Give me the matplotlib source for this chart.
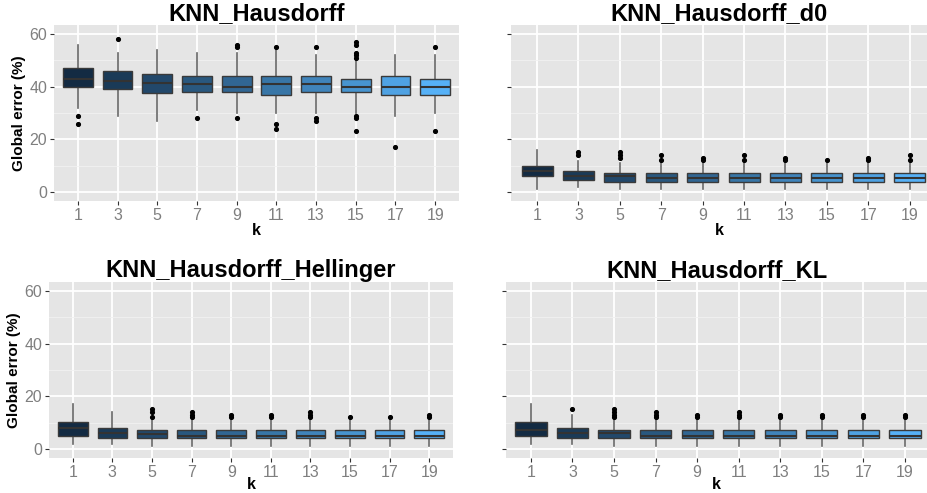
import matplotlib
matplotlib.use("Agg")
import matplotlib.pyplot as plt
from matplotlib.colors import LinearSegmentedColormap
from matplotlib.ticker import MultipleLocator

plt.rcParams['font.family'] = ['Liberation Sans', 'DejaVu Sans']

k_values = [1, 3, 5, 7, 9, 11, 13, 15, 17, 19]
titles = ["KNN_Hausdorff", "KNN_Hausdorff_d0",
          "KNN_Hausdorff_Hellinger", "KNN_Hausdorff_KL"]

# KNN_Hausdorff
h_q1 = [40, 39, 37.8, 38, 38, 37, 38, 38, 37, 37]
h_med = [43, 42.2, 41.5, 41, 40, 41, 41, 40, 40, 40]
h_q3 = [47, 46, 45, 44, 44, 44, 44, 43, 44, 43]
h_lo = [32, 29, 27, 31, 30, 30, 30, 30, 29, 30]
h_hi = [56, 53, 54, 53, 53, 54, 52, 50, 52, 52]
h_out = [[29, 26], [58], [], [28], [56, 55, 28], [55, 26, 24], [55, 28, 27],
         [57, 56, 53, 52, 51, 29, 28, 23], [17], [55, 23]]

# KNN_Hausdorff_d0
d0_q1 = [6, 4.5, 3.9, 3.9, 3.9, 3.9, 3.9, 3.9, 3.9, 3.9]
d0_med = [7.9, 6, 6, 5.1, 5.1, 5.1, 5.1, 5.1, 5.1, 5.1]
d0_q3 = [9.9, 8, 7, 7, 7, 7, 7, 7, 7, 7]
d0_lo = [1, 2, 1, 1, 1, 1, 1, 1, 1, 1]
d0_hi = [15.8, 11.8, 10.8, 10.8, 10.8, 10.8, 10.8, 10.8, 10.8, 10.8]
d0_out = [[], [15, 14], [15, 14, 13], [14, 12], [13, 12], [14, 12],
          [13, 12], [12], [13, 12], [14, 12]]

# KNN_Hausdorff_Hellinger
he_q1 = [5, 4, 4, 4, 4, 4, 4, 4, 4, 4]
he_med = [8, 6, 5.6, 5, 5, 5, 5, 5, 5, 5]
he_q3 = [10.1, 8, 7, 7, 7, 7, 7, 7, 7, 7]
he_lo = [2, 2, 1, 1, 1, 1, 1, 1, 1, 1]
he_hi = [17, 14, 11, 11, 11, 11, 11, 11, 11, 11]
he_out = [[], [], [15, 14, 12], [14, 13, 12], [13, 12], [13, 12],
          [14, 13, 12], [12], [12], [13, 12]]

# KNN_Hausdorff_KL
kl_q1 = [5, 4, 4, 4, 4, 4, 4, 4, 4, 4]
kl_med = [7.1, 6.1, 6.1, 5, 5, 5, 5, 5, 5, 5]
kl_q3 = [10.1, 8, 7, 7, 7, 7, 7, 7, 7, 7]
kl_lo = [2, 2, 1, 1, 1, 1, 1, 1, 1, 1]
kl_hi = [17, 13, 11, 11, 11, 11, 11, 11, 11, 11]
kl_out = [[], [15], [15, 14, 13, 12], [14, 13, 12], [13, 12], [14, 13, 12],
          [13, 12], [13, 12], [13, 12], [13, 12]]

panels = [
    (h_q1, h_med, h_q3, h_lo, h_hi, h_out),
    (d0_q1, d0_med, d0_q3, d0_lo, d0_hi, d0_out),
    (he_q1, he_med, he_q3, he_lo, he_hi, he_out),
    (kl_q1, kl_med, kl_q3, kl_lo, kl_hi, kl_out),
]

W, H = 927, 493
# axes rectangles in pixels: left, top, right, bottom
rects = [(54, 25, 459, 201), (511, 25, 927, 201),
         (49, 282, 453, 458), (506, 282, 927, 458)]
xlims = [(-0.6, 9.6), (-0.63, 9.42), (-0.6, 9.6), (-0.6, 9.53)]

cmap = LinearSegmentedColormap.from_list("gg", ["#132B43", "#56B1F7"])
bg = "#E5E5E5"
tick_col = "#7F7F7F"

fig = plt.figure(figsize=(W / 100, H / 100), dpi=100)

for i, (data, title) in enumerate(zip(panels, titles)):
    l, t, r, b = rects[i]
    ax = fig.add_axes([l / W, 1 - b / H, (r - l) / W, (b - t) / H])
    ax.set_facecolor(bg)
    q1, med, q3, lo, hi, out = data
    stats = []
    for j in range(len(k_values)):
        stats.append(dict(q1=q1[j], med=med[j], q3=q3[j],
                          whislo=lo[j], whishi=hi[j], fliers=out[j]))
    pos = list(range(len(k_values)))
    bp = ax.bxp(stats, positions=pos, widths=0.75, patch_artist=True,
                showfliers=True,
                boxprops=dict(edgecolor="#3a3a3a", linewidth=1.0),
                medianprops=dict(color="#333333", linewidth=1.5),
                whiskerprops=dict(color="#666666", linewidth=1.2),
                capprops=dict(linewidth=0),
                flierprops=dict(marker="o", markerfacecolor="black",
                                markeredgecolor="black", markersize=2.7))
    for j, patch in enumerate(bp["boxes"]):
        patch.set_facecolor(cmap((k_values[j] - 1) / 18))
        patch.set_zorder(3)
    for m in bp["medians"]:
        m.set_zorder(4)

    ax.set_xlim(*xlims[i])
    ax.set_ylim(-3.5, 63.5)
    ax.yaxis.set_major_locator(MultipleLocator(20))
    ax.yaxis.set_minor_locator(MultipleLocator(10))
    ax.set_xticks(pos)
    ax.set_xticklabels([str(k) for k in k_values])
    ax.grid(which="major", color="white", linewidth=1.3, zorder=0)
    ax.grid(which="minor", axis="y", color="#F2F2F2", linewidth=0.6, zorder=0)
    ax.set_axisbelow(True)
    for s in ax.spines.values():
        s.set_visible(False)
    ax.tick_params(axis="both", which="major", colors=tick_col,
                   labelsize=11.5, length=3, width=0.8, pad=2)
    ax.tick_params(axis="y", which="minor", length=0)
    ax.tick_params(axis="y", which="major", color="#333333")
    ax.tick_params(axis="x", which="major", color="#333333")
    if i % 2 == 1:
        ax.set_yticklabels([])
    else:
        ax.set_ylabel("Global error (%)", fontsize=11, fontweight="bold",
                      labelpad=2)
    ax.set_xlabel("k", fontsize=11.5, fontweight="bold",
                  labelpad=0 if i < 2 else -2)
    ax.set_title(title, fontsize=17, fontweight="bold", pad=2)

fig.savefig("out.png", dpi=100)
